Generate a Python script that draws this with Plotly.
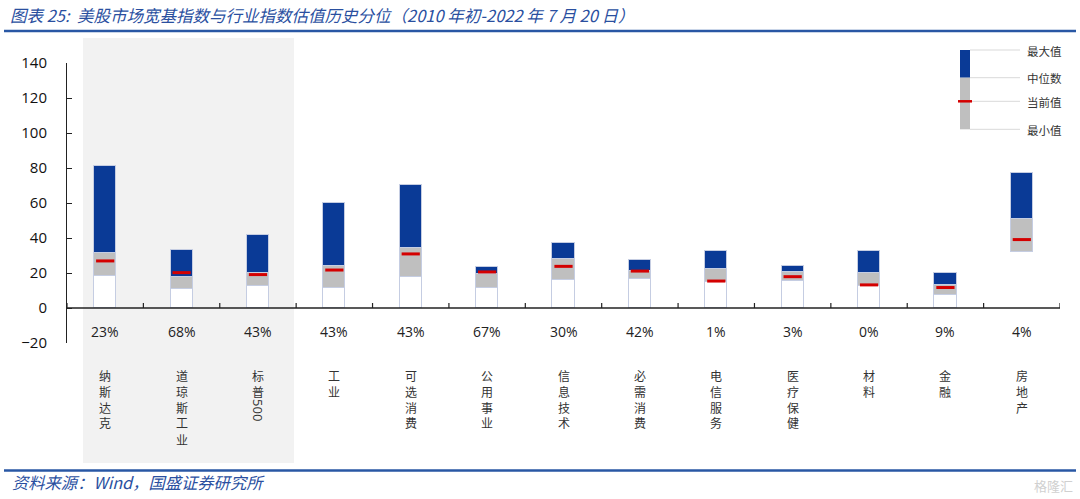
import plotly.graph_objects as go

categories = ["纳斯达克", "道琼斯工业", "标普500", "工业", "可选消费", "公用事业", "信息技术",
              "必需消费", "电信服务", "医疗保健", "材料", "金融", "房地产"]
max_vals = [81.1, 33.4, 41.9, 60.0, 70.5, 23.4, 37.4, 27.4, 32.8, 24.2, 32.4, 19.8, 77.1]
median_vals = [31.4, 17.9, 20.2, 24.0, 34.5, 19.6, 28.2, 21.4, 22.1, 20.6, 19.8, 13.4, 50.7]
min_vals = [18.3, 10.9, 12.4, 11.6, 17.7, 11.6, 15.8, 16.4, 14.9, 15.3, 12.8, 7.7, 32.2]
current_vals = [26.9, 20.2, 19.1, 21.7, 30.9, 20.6, 23.8, 21.1, 15.4, 17.9, 13.2, 11.7, 39.1]
percentiles = ["23%", "68%", "43%", "43%", "43%", "67%", "30%", "42%", "1%", "3%", "0%", "9%", "4%"]
y_ticks = [-20, 0, 20, 40, 60, 80, 100, 120, 140]
legend_labels = ["最大值", "中位数", "当前值", "最小值"]

BLUE = "#0a3a96"
GREY = "#bfbfbf"
RED = "#d40000"
EDGE = "#c5cde2"
TXT_BLUE = "#2a4f9f"

FW, FH = 1080, 499
L, R, T, B = 67, 20, 63, 156
W = FW - L - R
H = FH - T - B


def px(x):
    return (x - L) / W


def py(y):
    return (FH - B - y) / H


n = len(categories)
xs = list(range(n))
seg_grey = [m - lo for m, lo in zip(median_vals, min_vals)]
seg_blue = [hi - m for hi, m in zip(max_vals, median_vals)]
white_edges = [EDGE] * (n - 1) + ["rgba(0,0,0,0)"]
BW = 0.29

fig = go.Figure()
fig.add_trace(go.Bar(x=xs, y=min_vals, width=BW, marker=dict(color="white", line=dict(color=white_edges, width=1)),
                     hoverinfo="skip", showlegend=False))
fig.add_trace(go.Bar(x=xs, y=seg_grey, width=BW, marker=dict(color=GREY, line=dict(color=EDGE, width=1)),
                     hoverinfo="skip", showlegend=False))
fig.add_trace(go.Bar(x=xs, y=seg_blue, width=BW, marker=dict(color=BLUE, line=dict(color=EDGE, width=1)),
                     hoverinfo="skip", showlegend=False))
fig.add_trace(go.Scatter(x=xs, y=current_vals, mode="markers",
                         marker=dict(symbol="line-ew", size=13, line=dict(color=RED, width=3)),
                         hoverinfo="skip", showlegend=False))

shapes = []
shapes.append(dict(type="rect", xref="paper", yref="paper", x0=px(83), x1=px(294), y0=py(463), y1=py(38),
                   fillcolor="#f2f2f2", line=dict(width=0), layer="below"))
shapes.append(dict(type="line", xref="x", yref="y", x0=-0.5, x1=n - 0.5, y0=0, y1=0,
                   line=dict(color="#222222", width=1.3)))
for i in range(n + 1):
    shapes.append(dict(type="line", xref="x", yref="y", ysizemode="pixel", yanchor=0,
                       x0=i - 0.5, x1=i - 0.5, y0=0, y1=5, line=dict(color="#222222", width=1.2)))
shapes.append(dict(type="line", xref="paper", yref="paper", x0=px(4), x1=px(1076), y0=py(31), y1=py(31),
                   line=dict(color="#2957a4", width=2.5)))
shapes.append(dict(type="line", xref="paper", yref="paper", x0=px(4), x1=px(1076), y0=py(470.5), y1=py(470.5),
                   line=dict(color="#2957a4", width=2.5)))
leg_y = [50, 77.7, 101.3, 129.3]
for yy in leg_y:
    shapes.append(dict(type="line", xref="paper", yref="paper", x0=px(970), x1=px(1020), y0=py(yy), y1=py(yy),
                       line=dict(color="#d9d9d9", width=1)))
shapes.append(dict(type="rect", xref="paper", yref="paper", x0=px(960), x1=px(970), y0=py(leg_y[1]), y1=py(leg_y[0]),
                   fillcolor=BLUE, line=dict(width=0)))
shapes.append(dict(type="rect", xref="paper", yref="paper", x0=px(960), x1=px(970), y0=py(leg_y[3]), y1=py(leg_y[1]),
                   fillcolor=GREY, line=dict(width=0)))
shapes.append(dict(type="line", xref="paper", yref="paper", x0=px(958), x1=px(972), y0=py(leg_y[2]), y1=py(leg_y[2]),
                   line=dict(color=RED, width=2.5)))

annotations = []
CJK = "Noto Sans CJK SC"
CH_TOP = 375
CH_STEP = 16
for i, (cat, pct) in enumerate(zip(categories, percentiles)):
    annotations.append(dict(x=i, y=-13.7, xref="x", yref="y", text=pct, showarrow=False,
                            xanchor="center", yanchor="middle",
                            font=dict(family="Open Sans", size=14, color="#222222")))
    chars = ["标", "普"] if cat == "标普500" else list(cat)
    for k, ch in enumerate(chars):
        annotations.append(dict(x=i, y=py(CH_TOP + k * CH_STEP), xref="x", yref="paper", text=ch,
                                xanchor="center", yanchor="middle", showarrow=False,
                                font=dict(family=CJK, size=12, color="#333333")))
    if cat == "标普500":
        annotations.append(dict(x=i, y=py(410), xref="x", yref="paper", text="500", textangle=90,
                                xanchor="center", yanchor="middle", showarrow=False,
                                font=dict(family="Open Sans", size=13, color="#333333")))

for lab, yy in zip(legend_labels, [50.7, 77.7, 102, 130]):
    annotations.append(dict(x=px(1025), y=py(yy), xref="paper", yref="paper", xanchor="left", yanchor="middle",
                            text=lab, showarrow=False, font=dict(family=CJK, size=11.5, color="#333333")))

annotations.append(dict(x=px(8), y=py(15), xref="paper", yref="paper", xanchor="left", yanchor="middle",
                        text="图表 25:  美股市场宽基指数与行业指数估值历史分位（2010 年初-2022 年 7 月 20 日）",
                        showarrow=False, font=dict(family=CJK, size=16.5, color=TXT_BLUE, style="italic")))
annotations.append(dict(x=px(10), y=py(482), xref="paper", yref="paper", xanchor="left", yanchor="middle",
                        text="资料来源：Wind，国盛证券研究所",
                        showarrow=False, font=dict(family=CJK, size=16.3, color=TXT_BLUE, style="italic")))
annotations.append(dict(x=px(1075), y=py(485), xref="paper", yref="paper", xanchor="right", yanchor="middle",
                        text="格隆汇", showarrow=False, font=dict(family=CJK, size=13, color="#d0d0d0")))

fig.update_layout(
    width=FW, height=FH,
    margin=dict(l=L, r=R, t=T, b=B, pad=0),
    barmode="stack",
    bargap=0,
    paper_bgcolor="white",
    plot_bgcolor="rgba(0,0,0,0)",
    showlegend=False,
    shapes=shapes,
    annotations=annotations,
    xaxis=dict(range=[-0.5, n - 0.5], visible=False, fixedrange=True),
    yaxis=dict(range=[-20, 140], tickvals=y_ticks, showgrid=False, zeroline=False,
               showline=True, linecolor="#222222", linewidth=1, ticks="inside", ticklen=5,
               tickcolor="#222222", ticklabelstandoff=16,
               tickfont=dict(family="Open Sans", size=15, color="#111111"), fixedrange=True),
)

fig.write_html("out.html", config={"displayModeBar": False},
               post_script="document.body.style.margin='0';document.body.style.padding='0';")
